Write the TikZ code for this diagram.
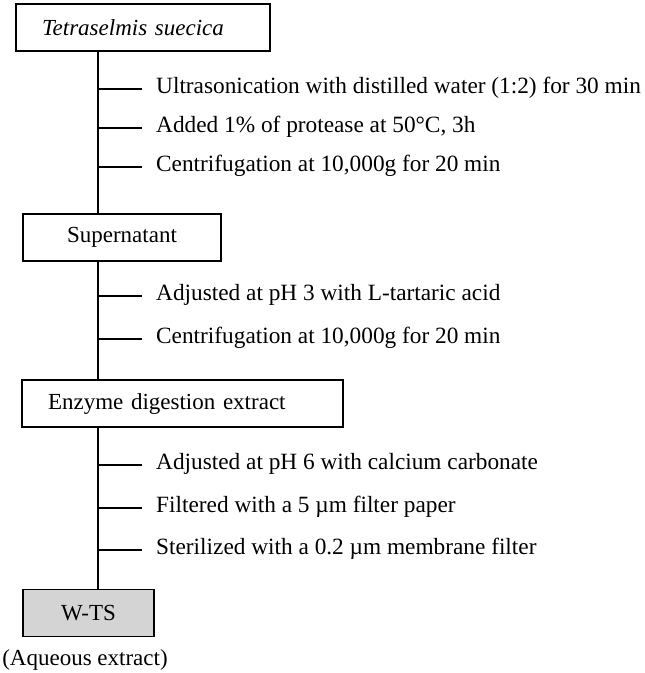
\documentclass[tikz,border=0pt]{standalone}
\usepackage{fontspec}
\setmainfont{Liberation Serif}
\usetikzlibrary{calc}

\tikzset{
  stage/.style={draw, line width=1.4pt, minimum height=47pt, inner ysep=0pt,
    font=\fontsize{23}{27}\selectfont},
  stepnote/.style={anchor=base west, inner sep=0pt},
  spine/.style={line width=1.4pt},
  tick/.style={line width=1.1pt}
}

\begin{document}
\begin{tikzpicture}[x=1pt, y=-1pt, font=\fontsize{23.3}{27}\selectfont]
    \useasboundingbox (0,0) rectangle (645,673);
    \coordinate (sp) at (98,0);
    % boxes
    \node[stage, text width=202pt, inner xsep=26pt, align=left] (ts) at (143,27.5) {\itshape Tetraselmis suecica};
    \node[stage, minimum width=198pt] (sup) at (122,237.5) {Supernatant};
    \node[stage, text width=269pt, inner xsep=26pt, align=left] (enz) at (182.5,403.5) {Enzyme digestion extract};
    \node[stage, minimum width=131pt, fill=black!17] (wts) at (88.5,613) {W-TS};
    \node[inner sep=0pt, font=\fontsize{23}{27}\selectfont] (aq) at (85,660) {(Aqueous extract)};
    % steps (baseline a little under the tick)
    \node[stepnote] (s1) at (156,93) {Ultrasonication with distilled water (1:2) for 30 min};
    \node[stepnote] (s2) at (156,132) {Added 1\% of protease at 50°C, 3h};
    \node[stepnote] (s3) at (156,171) {Centrifugation at 10,000g for 20 min};
    \node[stepnote] (s4) at (156,300) {Adjusted at pH 3 with L-tartaric acid};
    \node[stepnote] (s5) at (156,343) {Centrifugation at 10,000g for 20 min};
    \node[stepnote] (s6) at (156,469) {Adjusted at pH 6 with calcium carbonate};
    \node[stepnote] (s7) at (156,512) {Filtered with a 5 µm filter paper};
    \node[stepnote] (s8) at (156,554) {Sterilized with a 0.2 µm membrane filter};
    % lines
    \draw[spine] (ts.south -| sp) -- (sup.north -| sp);
    \draw[spine] (sup.south -| sp) -- (enz.north -| sp);
    \draw[spine] (enz.south -| sp) -- (wts.north -| sp);
    \foreach \i in {1,...,8}
        \draw[tick] ($(s\i.base west -| sp)+(0,-4)$) -- ++(44,0);
\end{tikzpicture}
\end{document}
